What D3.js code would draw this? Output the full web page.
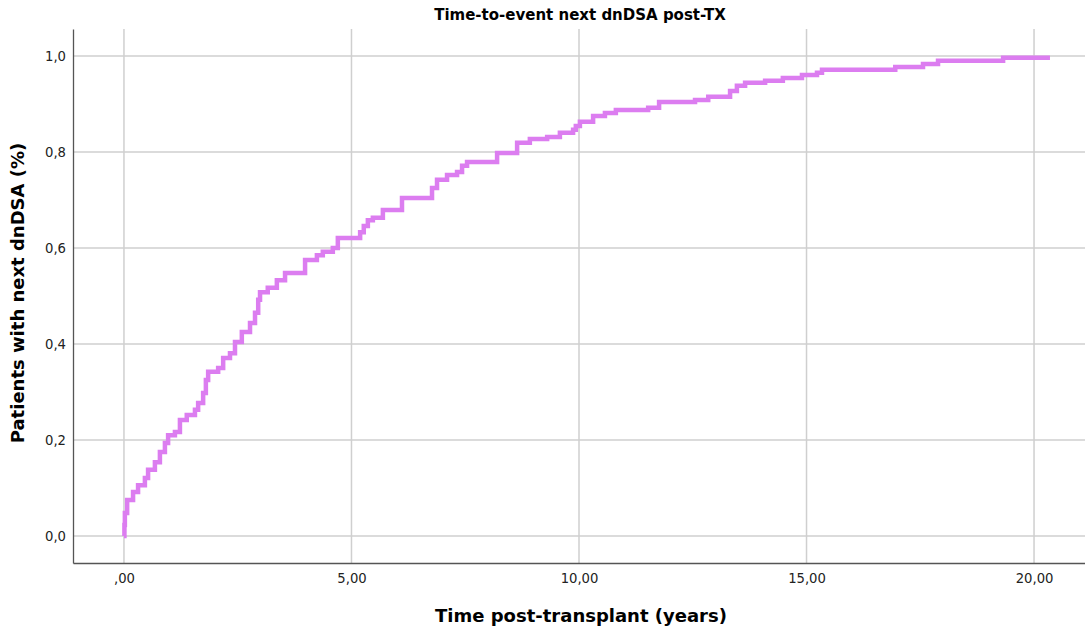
<!DOCTYPE html>
<html>
<head>
<meta charset="utf-8">
<script src="https://cdn.jsdelivr.net/npm/d3@7"></script>
<style>
  body { margin: 0; background: #fff; }
  text { font-family: "DejaVu Sans", sans-serif; }
</style>
</head>
<body>
<script>
'use strict'

// years post-TX at which the cumulative share steps up
const times = [0, 0.01, 0.02, 0.07, 0.20, 0.31, 0.46, 0.53, 0.68, 0.79, 0.90, 0.97, 1.12, 1.23, 1.38, 1.56,
  1.63, 1.74, 1.80, 1.85, 2.07, 2.18, 2.33, 2.44, 2.59, 2.77, 2.88, 2.95, 2.99, 3.16, 3.36, 3.54,
  3.98, 4.24, 4.37, 4.59, 4.70, 5.19, 5.27, 5.36, 5.47, 5.69, 6.11, 6.77, 6.88, 7.10, 7.32, 7.43,
  7.54, 8.20, 8.64, 8.92, 9.30, 9.58, 9.87, 9.93, 10.02, 10.31, 10.57, 10.81, 11.52, 11.76, 12.55,
  12.84, 13.32, 13.47, 13.65, 14.09, 14.48, 14.90, 15.23, 15.34, 16.95, 17.56, 17.89, 19.32, 20.35]

const share = [0, 0.023, 0.048, 0.075, 0.092, 0.106, 0.121, 0.138, 0.154, 0.175, 0.194, 0.210, 0.217, 0.242, 0.252, 0.263,
  0.277, 0.298, 0.325, 0.342, 0.350, 0.371, 0.381, 0.404, 0.425, 0.444, 0.465, 0.492, 0.508, 0.517, 0.533, 0.548,
  0.575, 0.585, 0.592, 0.600, 0.621, 0.633, 0.646, 0.658, 0.663, 0.679, 0.704, 0.725, 0.742, 0.752, 0.758, 0.771,
  0.779, 0.798, 0.819, 0.827, 0.831, 0.840, 0.846, 0.854, 0.863, 0.875, 0.881, 0.8875, 0.892, 0.904, 0.908,
  0.915, 0.927, 0.938, 0.944, 0.948, 0.954, 0.960, 0.965, 0.971, 0.977, 0.983, 0.990, 0.996, 0.996]

const xTicks = [0, 5, 10, 15, 20]
const yTicks = [0, 0.2, 0.4, 0.6, 0.8, 1.0]

const title = 'Time-to-event next dnDSA post-TX',
      xTitle = 'Time post-transplant (years)',
      yTitle = 'Patients with next dnDSA (%)'

const W = 1085, H = 632
const margin = {top: 29, right: 0, bottom: 69, left: 73}

const x = d3.scaleLinear()
  .domain([-1.12, 21.12])
  .range([margin.left, W - margin.right])

const y = d3.scaleLinear()
  .domain([-0.056, 1.056])
  .range([H - margin.bottom, margin.top])

const comma = v => v.replace('.', ',')
const fmtX = d => d === 0 ? ',00' : comma(d3.format('.2f')(d))
const fmtY = d => comma(d3.format('.1f')(d))

const svg = d3.select('body').append('svg')
  .attr('width', W)
  .attr('height', H)

// grid
svg.append('g')
  .selectAll('line')
  .data(yTicks)
  .enter()
  .append('line')
  .attr('x1', margin.left).attr('x2', W)
  .attr('y1', d => y(d)).attr('y2', d => y(d))
  .attr('stroke', '#cfcfcf').attr('stroke-width', 1.5)

svg.append('g')
  .selectAll('line')
  .data(xTicks)
  .enter()
  .append('line')
  .attr('x1', d => x(d)).attr('x2', d => x(d))
  .attr('y1', margin.top).attr('y2', H - margin.bottom)
  .attr('stroke', '#cfcfcf').attr('stroke-width', 1.5)

// axes
const xAxis = svg.append('g')
  .attr('transform', 'translate(0,' + (H - margin.bottom) + ')')
  .call(d3.axisBottom(x).tickValues(xTicks).tickFormat(fmtX).tickSize(0).tickPadding(11))

const yAxis = svg.append('g')
  .attr('transform', 'translate(' + margin.left + ',0)')
  .call(d3.axisLeft(y).tickValues(yTicks).tickFormat(fmtY).tickSize(0).tickPadding(7))

;[xAxis, yAxis].forEach(a => {
  a.select('.domain').attr('stroke', '#555').attr('stroke-width', 1.3)
  a.selectAll('text').attr('fill', '#222').style('font-size', '13.2px')
})

// step curve
const pts = times.map((t, i) => [t, share[i]])

const line = d3.line()
  .x(d => x(d[0]))
  .y(d => y(d[1]))
  .curve(d3.curveStepAfter)

svg.append('path')
  .datum(pts)
  .attr('d', line)
  .attr('fill', 'none')
  .attr('stroke', '#dc7df0')
  .attr('stroke-width', 4.5)

// titles
svg.append('text')
  .attr('x', 580).attr('y', 20)
  .attr('text-anchor', 'middle')
  .style('font-size', '15px').style('font-weight', 'bold')
  .text(title)

svg.append('text')
  .attr('x', 581).attr('y', 622)
  .attr('text-anchor', 'middle')
  .style('font-size', '18px').style('font-weight', 'bold')
  .text(xTitle)

svg.append('text')
  .attr('transform', 'translate(24,293) rotate(-90)')
  .attr('text-anchor', 'middle')
  .style('font-size', '18px').style('font-weight', 'bold')
  .text(yTitle)
</script>
</body>
</html>
